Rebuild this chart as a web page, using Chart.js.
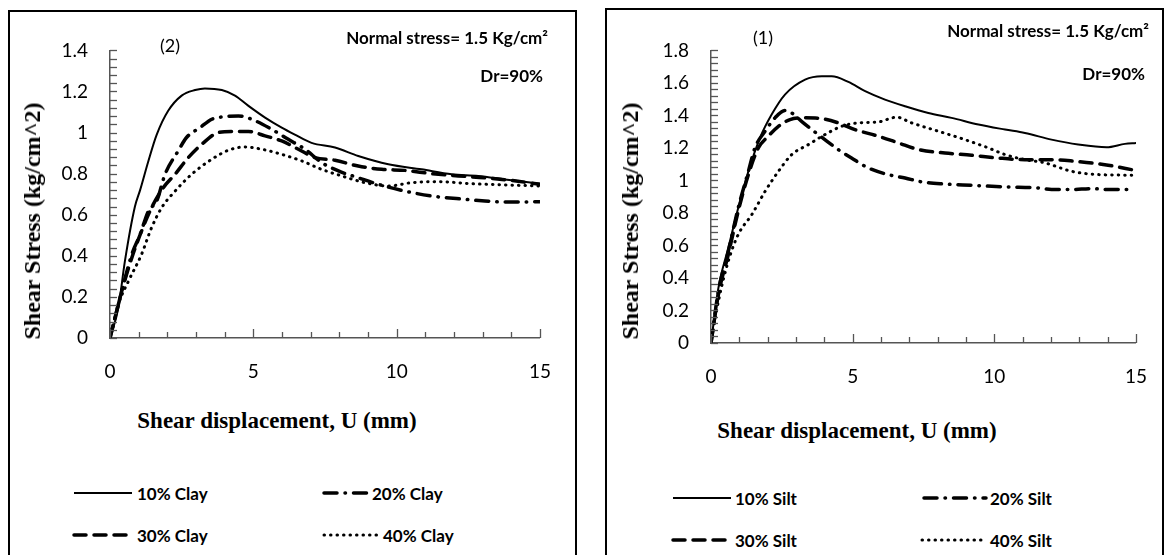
<!DOCTYPE html>
<html>
<head>
<meta charset="utf-8">
<script src="https://cdn.jsdelivr.net/npm/chart.js@4.4.1/dist/chart.umd.min.js"></script>
<style>
  html, body { margin: 0; padding: 0; background: #fff; }
  #page { position: relative; width: 1166px; height: 555px; overflow: hidden; background: #fff; }
  .panel { position: absolute; border: 2px solid #000; box-sizing: border-box; }
  canvas { position: absolute; }
  .txt { position: absolute; white-space: nowrap; color: #000; line-height: 1; }
  .note { font-family: Lato, "Open Sans", sans-serif; font-weight: bold; font-size: 17px; transform: translate(-100%, -50%); }
  .tag { font-family: Lato, "Open Sans", sans-serif; font-size: 18px; transform: translate(-50%, -50%); }
  .ttl { font-family: "Liberation Serif", "DejaVu Serif", serif; font-weight: bold; font-size: 23px; transform: translate(-50%, -50%); }
  .ttl.rot { font-size: 24px; transform: translate(-50%, -50%) rotate(-90deg); }
  .leg { font-family: Lato, "Open Sans", sans-serif; font-weight: bold; font-size: 17px; transform: translateY(-50%); }
  svg.sample { position: absolute; overflow: visible; }
</style>
</head>
<body>
<div id="page">
  <div class="panel" style="left:8px;top:10px;width:569px;height:560px"></div>
  <div class="panel" style="left:605px;top:8px;width:559px;height:560px"></div>
  <canvas id="clayChart" width="540" height="358" style="left:20px;top:30px"></canvas>
  <canvas id="siltChart" width="535" height="363" style="left:621px;top:30px"></canvas>
</div>

<script>
// ---- Chart (2): clay mixtures ----
const clayNames = ['10% Clay', '20% Clay', '30% Clay', '40% Clay'];
const clayX1 = [0, 0.29, 0.52, 0.87, 1.05, 1.34, 1.63, 2.03, 2.5, 2.97, 3.31, 3.9, 4.36, 4.83, 5.41, 5.99, 6.45, 7.03, 7.85, 8.66, 9.71, 10.87, 11.92, 12.85, 13.78, 15];
const clayY1 = [0, 0.146, 0.374, 0.64, 0.72, 0.862, 0.99, 1.106, 1.18, 1.207, 1.215, 1.207, 1.18, 1.13, 1.073, 1.024, 0.99, 0.95, 0.927, 0.886, 0.846, 0.821, 0.797, 0.789, 0.772, 0.751];
const clayX2 = [0, 0.41, 0.76, 1.05, 1.34, 1.63, 1.92, 2.38, 2.67, 3.14, 3.55, 3.9, 4.48, 4.94, 5.64, 6.22, 6.8, 7.38, 7.97, 8.66, 9.36, 10.29, 11.22, 12.38, 13.08, 13.78, 15];
const clayY2 = [0, 0.228, 0.407, 0.504, 0.618, 0.667, 0.797, 0.911, 0.976, 1.024, 1.065, 1.076, 1.081, 1.065, 1.016, 0.967, 0.919, 0.854, 0.813, 0.78, 0.748, 0.715, 0.691, 0.675, 0.667, 0.662, 0.663];
const clayX3 = [0, 0.41, 0.76, 1.1, 1.45, 1.86, 2.27, 2.73, 3.2, 3.78, 4.24, 4.83, 5.41, 5.99, 6.57, 7.15, 7.85, 8.66, 9.48, 10.29, 11.22, 12.15, 13.08, 14.01, 15];
const clayY3 = [0, 0.228, 0.39, 0.52, 0.634, 0.732, 0.797, 0.878, 0.943, 1.0, 1.005, 1.005, 0.984, 0.959, 0.919, 0.878, 0.865, 0.837, 0.821, 0.816, 0.8, 0.789, 0.78, 0.767, 0.748];
const clayX4 = [0, 0.29, 0.64, 1.1, 1.45, 1.8, 2.27, 2.85, 3.55, 4.13, 4.71, 5.29, 5.99, 6.69, 7.38, 8.08, 8.9, 9.71, 10.52, 11.45, 12.62, 13.78, 15];
const clayY4 = [0, 0.163, 0.276, 0.407, 0.537, 0.634, 0.715, 0.797, 0.87, 0.914, 0.93, 0.919, 0.894, 0.862, 0.821, 0.789, 0.756, 0.74, 0.756, 0.761, 0.751, 0.745, 0.74];
const clayYTicks = [0, 0.2, 0.4, 0.6, 0.8, 1, 1.2, 1.4];

// ---- Chart (1): silt mixtures ----
const siltNames = ['10% Silt', '20% Silt', '30% Silt', '40% Silt'];
const siltX1 = [0, 0.26, 0.61, 0.96, 1.32, 1.73, 2.14, 2.61, 3.32, 3.91, 4.26, 4.85, 5.44, 6.14, 6.85, 7.67, 8.49, 9.44, 10.38, 11.08, 12.02, 12.96, 13.96, 14.61, 15];
const siltY1 = [0, 0.338, 0.585, 0.831, 1.056, 1.262, 1.405, 1.528, 1.62, 1.641, 1.641, 1.606, 1.549, 1.497, 1.456, 1.415, 1.385, 1.344, 1.313, 1.292, 1.251, 1.221, 1.204, 1.225, 1.231];
const siltX2 = [0, 0.26, 0.61, 0.96, 1.32, 1.55, 1.91, 2.26, 2.61, 2.85, 3.26, 3.79, 4.49, 4.96, 5.55, 6.25, 6.85, 7.44, 8.26, 9.2, 9.91, 10.85, 11.55, 12.02, 12.73, 13.44, 14.02, 14.73];
const siltY2 = [0, 0.318, 0.564, 0.831, 1.056, 1.2, 1.303, 1.385, 1.43, 1.415, 1.354, 1.282, 1.19, 1.138, 1.077, 1.036, 1.015, 0.991, 0.978, 0.97, 0.964, 0.958, 0.954, 0.944, 0.944, 0.95, 0.944, 0.944];
const siltX3 = [0, 0.26, 0.61, 0.96, 1.32, 1.67, 2.02, 2.38, 2.79, 3.32, 3.91, 4.49, 5.08, 5.91, 6.61, 7.32, 8.26, 9.2, 10.14, 11.08, 12.02, 12.84, 13.9, 15];
const siltY3 = [0, 0.297, 0.544, 0.81, 1.036, 1.2, 1.272, 1.333, 1.374, 1.385, 1.38, 1.354, 1.313, 1.272, 1.231, 1.19, 1.169, 1.155, 1.138, 1.128, 1.128, 1.118, 1.097, 1.061];
const siltX4 = [0, 0.26, 0.61, 0.96, 1.44, 1.91, 2.38, 2.85, 3.44, 4.02, 4.61, 5.2, 5.91, 6.55, 7.08, 8.02, 8.96, 9.79, 10.38, 11.08, 11.79, 12.73, 13.67, 15];
const siltY4 = [0, 0.256, 0.503, 0.667, 0.79, 0.933, 1.056, 1.159, 1.221, 1.282, 1.333, 1.354, 1.36, 1.389, 1.354, 1.303, 1.251, 1.2, 1.159, 1.128, 1.108, 1.056, 1.036, 1.032];
const siltYTicks = [0, 0.2, 0.4, 0.6, 0.8, 1, 1.2, 1.4, 1.6, 1.8];

const xTicks = [0, 5, 10, 15];

// line looks shared by both charts: solid, dash-dot, dash, dot
const lineLooks = [
  { width: 2, dash: [] },
  { width: 3.5, dash: [13, 8, 0.5, 8] },
  { width: 3.5, dash: [12, 8] },
  { width: 3, dash: [0.5, 6] }
];

function toPoints(xs, ys) {
  return xs.map((x, i) => ({ x: x, y: ys[i] }));
}

// small inward tick marks, like the spreadsheet original
const innerTicks = {
  id: 'innerTicks',
  afterDraw(chart, args, opts) {
    const { ctx, scales: { x, y } } = chart;
    ctx.save();
    ctx.strokeStyle = '#555';
    ctx.lineWidth = 1.3;
    const ny = Math.round(opts.yMax / opts.yMinor);
    for (let i = 0; i <= ny; i++) {
      const py = Math.round(y.getPixelForValue(i * opts.yMinor)) + 0.5;
      ctx.beginPath();
      ctx.moveTo(x.left, py);
      ctx.lineTo(x.left + 7, py);
      ctx.stroke();
    }
    for (let i = 0; i <= 15; i++) {
      const px = Math.round(x.getPixelForValue(i)) + 0.5;
      const len = i % 5 === 0 ? 9 : 6;
      ctx.beginPath();
      ctx.moveTo(px, y.bottom);
      ctx.lineTo(px, y.bottom - len);
      ctx.stroke();
    }
    ctx.restore();
  }
};

function makeChart(canvas, names, xsList, ysList, yTicks) {
  const yMax = yTicks[yTicks.length - 1];
  const tickFont = { family: 'Lato', size: 19 };
  return new Chart(canvas, {
    type: 'line',
    data: {
      datasets: names.map((name, i) => ({
        label: name,
        data: toPoints(xsList[i], ysList[i]),
        borderColor: '#000',
        borderWidth: lineLooks[i].width,
        borderDash: lineLooks[i].dash,
        borderCapStyle: 'round',
        pointRadius: 0,
        fill: false,
        cubicInterpolationMode: 'monotone'
      }))
    },
    options: {
      responsive: false,
      animation: false,
      devicePixelRatio: 1,
      layout: { padding: { top: 20, right: 20, left: 0, bottom: 0 } },
      plugins: {
        legend: { display: false },
        tooltip: { enabled: false },
        innerTicks: { yMax: yMax, yMinor: 0.04 }
      },
      scales: {
        x: {
          type: 'linear',
          min: 0,
          max: 15,
          afterBuildTicks: s => { s.ticks = xTicks.map(v => ({ value: v })); },
          afterFit: s => { s.height = 50; },
          grid: { display: true, drawOnChartArea: false, drawTicks: false },
          border: { display: true, color: '#555', width: 1.5 },
          ticks: { font: tickFont, color: '#000', padding: 22, maxRotation: 0, callback: v => String(v) }
        },
        y: {
          type: 'linear',
          min: 0,
          max: yMax,
          afterBuildTicks: s => { s.ticks = yTicks.map(v => ({ value: v })); },
          afterFit: s => { s.width = 90; },
          grid: { display: true, drawOnChartArea: false, drawTicks: false },
          border: { display: true, color: '#555', width: 1.5 },
          ticks: { font: tickFont, color: '#000', padding: 22, callback: v => String(Number(v.toFixed(2))) }
        }
      }
    },
    plugins: [innerTicks]
  });
}

// build once, measure the plot box, then rebuild with a canvas sized so the plot box lands where wanted
function placeChart(id, box, names, xsList, ysList, yTicks) {
  const canvas = document.getElementById(id);
  let chart = makeChart(canvas, names, xsList, ysList, yTicks);
  const a = chart.chartArea;
  const w = canvas.width + (box.right - box.left) - (a.right - a.left);
  const h = canvas.height + (box.bottom - box.top) - (a.bottom - a.top);
  chart.destroy();
  canvas.width = w;
  canvas.height = h;
  canvas.style.width = w + 'px';
  canvas.style.height = h + 'px';
  chart = makeChart(canvas, names, xsList, ysList, yTicks);
  const b = chart.chartArea;
  canvas.style.left = (box.left - b.left) + 'px';
  canvas.style.top = (box.top - b.top) + 'px';
  return chart;
}

const page = document.getElementById('page');
function addText(cls, text, left, top) {
  const d = document.createElement('div');
  d.className = 'txt ' + cls;
  d.textContent = text;
  d.style.left = left + 'px';
  d.style.top = top + 'px';
  page.appendChild(d);
}

function addSample(look, left, top, width) {
  const ns = 'http://www.w3.org/2000/svg';
  const svg = document.createElementNS(ns, 'svg');
  svg.setAttribute('class', 'sample');
  svg.setAttribute('width', width);
  svg.setAttribute('height', 8);
  svg.style.left = left + 'px';
  svg.style.top = (top - 4) + 'px';
  const ln = document.createElementNS(ns, 'line');
  ln.setAttribute('x1', 1);
  ln.setAttribute('x2', width - 1);
  ln.setAttribute('y1', 4);
  ln.setAttribute('y2', 4);
  ln.setAttribute('stroke', '#000');
  ln.setAttribute('stroke-width', look.width);
  ln.setAttribute('stroke-linecap', look.dash.length ? 'round' : 'butt');
  if (look.dash.length) ln.setAttribute('stroke-dasharray', look.dash.join(' '));
  svg.appendChild(ln);
  page.appendChild(svg);
}

function addLegend(names, slots) {
  names.forEach((name, i) => {
    const s = slots[i];
    addSample(lineLooks[i], s.lineL, s.y, s.lineW);
    addText('leg', name, s.textL, s.y);
  });
}

placeChart('clayChart', { left: 110, top: 50, right: 540, bottom: 338 },
  clayNames, [clayX1, clayX2, clayX3, clayX4], [clayY1, clayY2, clayY3, clayY4], clayYTicks);
placeChart('siltChart', { left: 711, top: 50, right: 1136, bottom: 343 },
  siltNames, [siltX1, siltX2, siltX3, siltX4], [siltY1, siltY2, siltY3, siltY4], siltYTicks);

// texts of the left panel
addText('tag', '(2)', 170, 45);
addText('note', 'Normal stress= 1.5 Kg/cm\u00B2', 548, 37);
addText('note', 'Dr=90%', 543, 75);
addText('ttl rot', 'Shear Stress (kg/cm^2)', 32, 221);
addText('ttl', 'Shear displacement, U (mm)', 277, 420);
addLegend(clayNames, [
  { lineL: 73, lineW: 60, textL: 137, y: 493 },
  { lineL: 323, lineW: 47, textL: 372, y: 493 },
  { lineL: 73, lineW: 60, textL: 137, y: 535 },
  { lineL: 323, lineW: 57, textL: 383, y: 535 }
]);

// texts of the right panel
addText('tag', '(1)', 763, 37);
addText('note', 'Normal stress= 1.5 Kg/cm\u00B2', 1149, 30);
addText('note', 'Dr=90%', 1145, 73);
addText('ttl rot', 'Shear Stress (kg/cm^2)', 630, 221);
addText('ttl', 'Shear displacement, U (mm)', 857, 430);
addLegend(siltNames, [
  { lineL: 672, lineW: 60, textL: 735, y: 498 },
  { lineL: 923, lineW: 64, textL: 990, y: 498 },
  { lineL: 672, lineW: 60, textL: 735, y: 540 },
  { lineL: 921, lineW: 64, textL: 990, y: 540 }
]);
</script>
</body>
</html>
